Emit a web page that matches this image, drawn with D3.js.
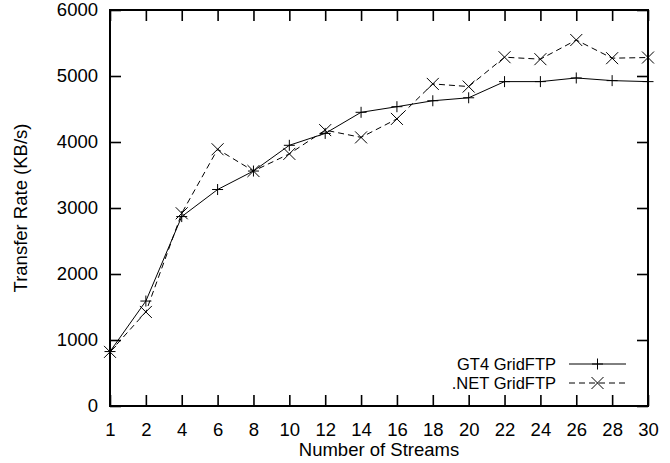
<!DOCTYPE html>
<html lang="en">
<head>
  <meta charset="UTF-8">
  <title>Transfer Rate vs Number of Streams</title>
  <style>
    body { margin: 0; background: #fff; }
    text { font-family: "Liberation Sans", Arial, sans-serif; fill: #000; }
  </style>
</head>
<body>
  <svg id="svg" width="670" height="463"></svg>

  <script src="https://d3js.org/d3.v7.min.js"></script>
  <script>
    // data
    const streams = [1, 2, 4, 6, 8, 10, 12, 14, 16, 18, 20, 22, 24, 26, 28, 30]
    const gt4 = [825, 1590, 2870, 3280, 3560, 3950, 4130, 4450, 4535, 4625, 4670, 4915, 4915, 4970, 4930, 4915]
    const dotnet = [820, 1425, 2920, 3890, 3560, 3820, 4180, 4070, 4350, 4880, 4840, 5285, 5255, 5545, 5270, 5280]
    const yTicks = [0, 1000, 2000, 3000, 4000, 5000, 6000]

    const margin = { top: 10, right: 22, bottom: 57, left: 110 }
    const width = 670 - margin.left - margin.right
    const height = 463 - margin.top - margin.bottom

    const svg = d3.select('#svg')
    const g = svg.append('g').attr('transform', `translate(${margin.left}, ${margin.top})`)

    // x is categorical: evenly spaced stream counts
    const xscale = d3.scalePoint()
      .domain(streams)
      .range([0, width])

    const yscale = d3.scaleLinear()
      .domain([0, 6000])
      .range([height, 0])

    const tickLen = 11

    // axes (inward ticks), bottom + left with labels, top + right mirrored
    const bottomAxis = d3.axisBottom(xscale).tickSizeInner(-tickLen).tickSizeOuter(0).tickPadding(17)
    const leftAxis = d3.axisLeft(yscale).tickValues(yTicks).tickFormat(d3.format('d'))
      .tickSizeInner(-tickLen).tickSizeOuter(0).tickPadding(12)
    const topAxis = d3.axisTop(xscale).tickSizeInner(-tickLen).tickSizeOuter(0).tickFormat('')
    const rightAxis = d3.axisRight(yscale).tickValues(yTicks).tickSizeInner(-tickLen).tickSizeOuter(0).tickFormat('')

    const axes = [
      g.append('g').attr('transform', `translate(0, ${height})`).call(bottomAxis),
      g.append('g').call(leftAxis),
      g.append('g').call(topAxis),
      g.append('g').attr('transform', `translate(${width}, 0)`).call(rightAxis)
    ]
    axes.forEach(a => {
      a.select('.domain').remove()
      a.selectAll('line').attr('stroke', '#000').attr('stroke-width', 1.6)
      a.selectAll('text').style('font-size', '18.5px').style('font-family', '"Liberation Sans", Arial, sans-serif')
    })

    // frame
    g.append('rect')
      .attr('x', 0).attr('y', 0)
      .attr('width', width).attr('height', height)
      .attr('fill', 'none')
      .attr('stroke', '#000')
      .attr('stroke-width', 2)

    // axis titles
    svg.append('text')
      .attr('x', margin.left + width / 2)
      .attr('y', 456)
      .attr('text-anchor', 'middle')
      .style('font-size', '18.5px')
      .text('Number of Streams')

    svg.append('text')
      .attr('transform', `translate(27, ${margin.top + height / 2}) rotate(-90)`)
      .attr('text-anchor', 'middle')
      .style('font-size', '18.5px')
      .text('Transfer Rate (KB/s)')

    // markers
    const plus = (sel, s) => sel.append('path')
      .attr('d', `M${-s},0H${s}M0,${-s}V${s}`)
    const cross = (sel, s) => sel.append('path')
      .attr('d', `M${-s},${-s}L${s},${s}M${-s},${s}L${s},${-s}`)

    const series = [
      { name: 'GT4 GridFTP', values: gt4, dash: null, marker: plus, size: 5.5 },
      { name: '.NET GridFTP', values: dotnet, dash: '6,4', marker: cross, size: 6 }
    ]

    const line = d3.line()
      .x((d, i) => xscale(streams[i]))
      .y(d => yscale(d))

    series.forEach(s => {
      g.append('path')
        .datum(s.values)
        .attr('d', line)
        .attr('fill', 'none')
        .attr('stroke', '#000')
        .attr('stroke-width', 1)
        .attr('stroke-dasharray', s.dash)

      g.append('g')
        .selectAll('g')
        .data(s.values)
        .enter()
        .append('g')
        .attr('transform', (d, i) => `translate(${xscale(streams[i])}, ${yscale(d)})`)
        .each(function () {
          s.marker(d3.select(this), s.size)
            .attr('stroke', '#000')
            .attr('stroke-width', 1)
            .attr('fill', 'none')
        })
    })

    // legend, bottom right
    const legend = svg.append('g')
    series.forEach((s, i) => {
      const y = 364 + i * 19
      legend.append('text')
        .attr('x', 556)
        .attr('y', y)
        .attr('dy', '0.35em')
        .attr('text-anchor', 'end')
        .style('font-size', '16.5px')
        .text(s.name)
      legend.append('line')
        .attr('x1', 569).attr('x2', 626)
        .attr('y1', y).attr('y2', y)
        .attr('stroke', '#000')
        .attr('stroke-width', 1)
        .attr('stroke-dasharray', s.dash)
      const m = legend.append('g').attr('transform', `translate(597.5, ${y})`)
      s.marker(m, s.size).attr('stroke', '#000').attr('stroke-width', 1).attr('fill', 'none')
    })
  </script>
</body>
</html>
